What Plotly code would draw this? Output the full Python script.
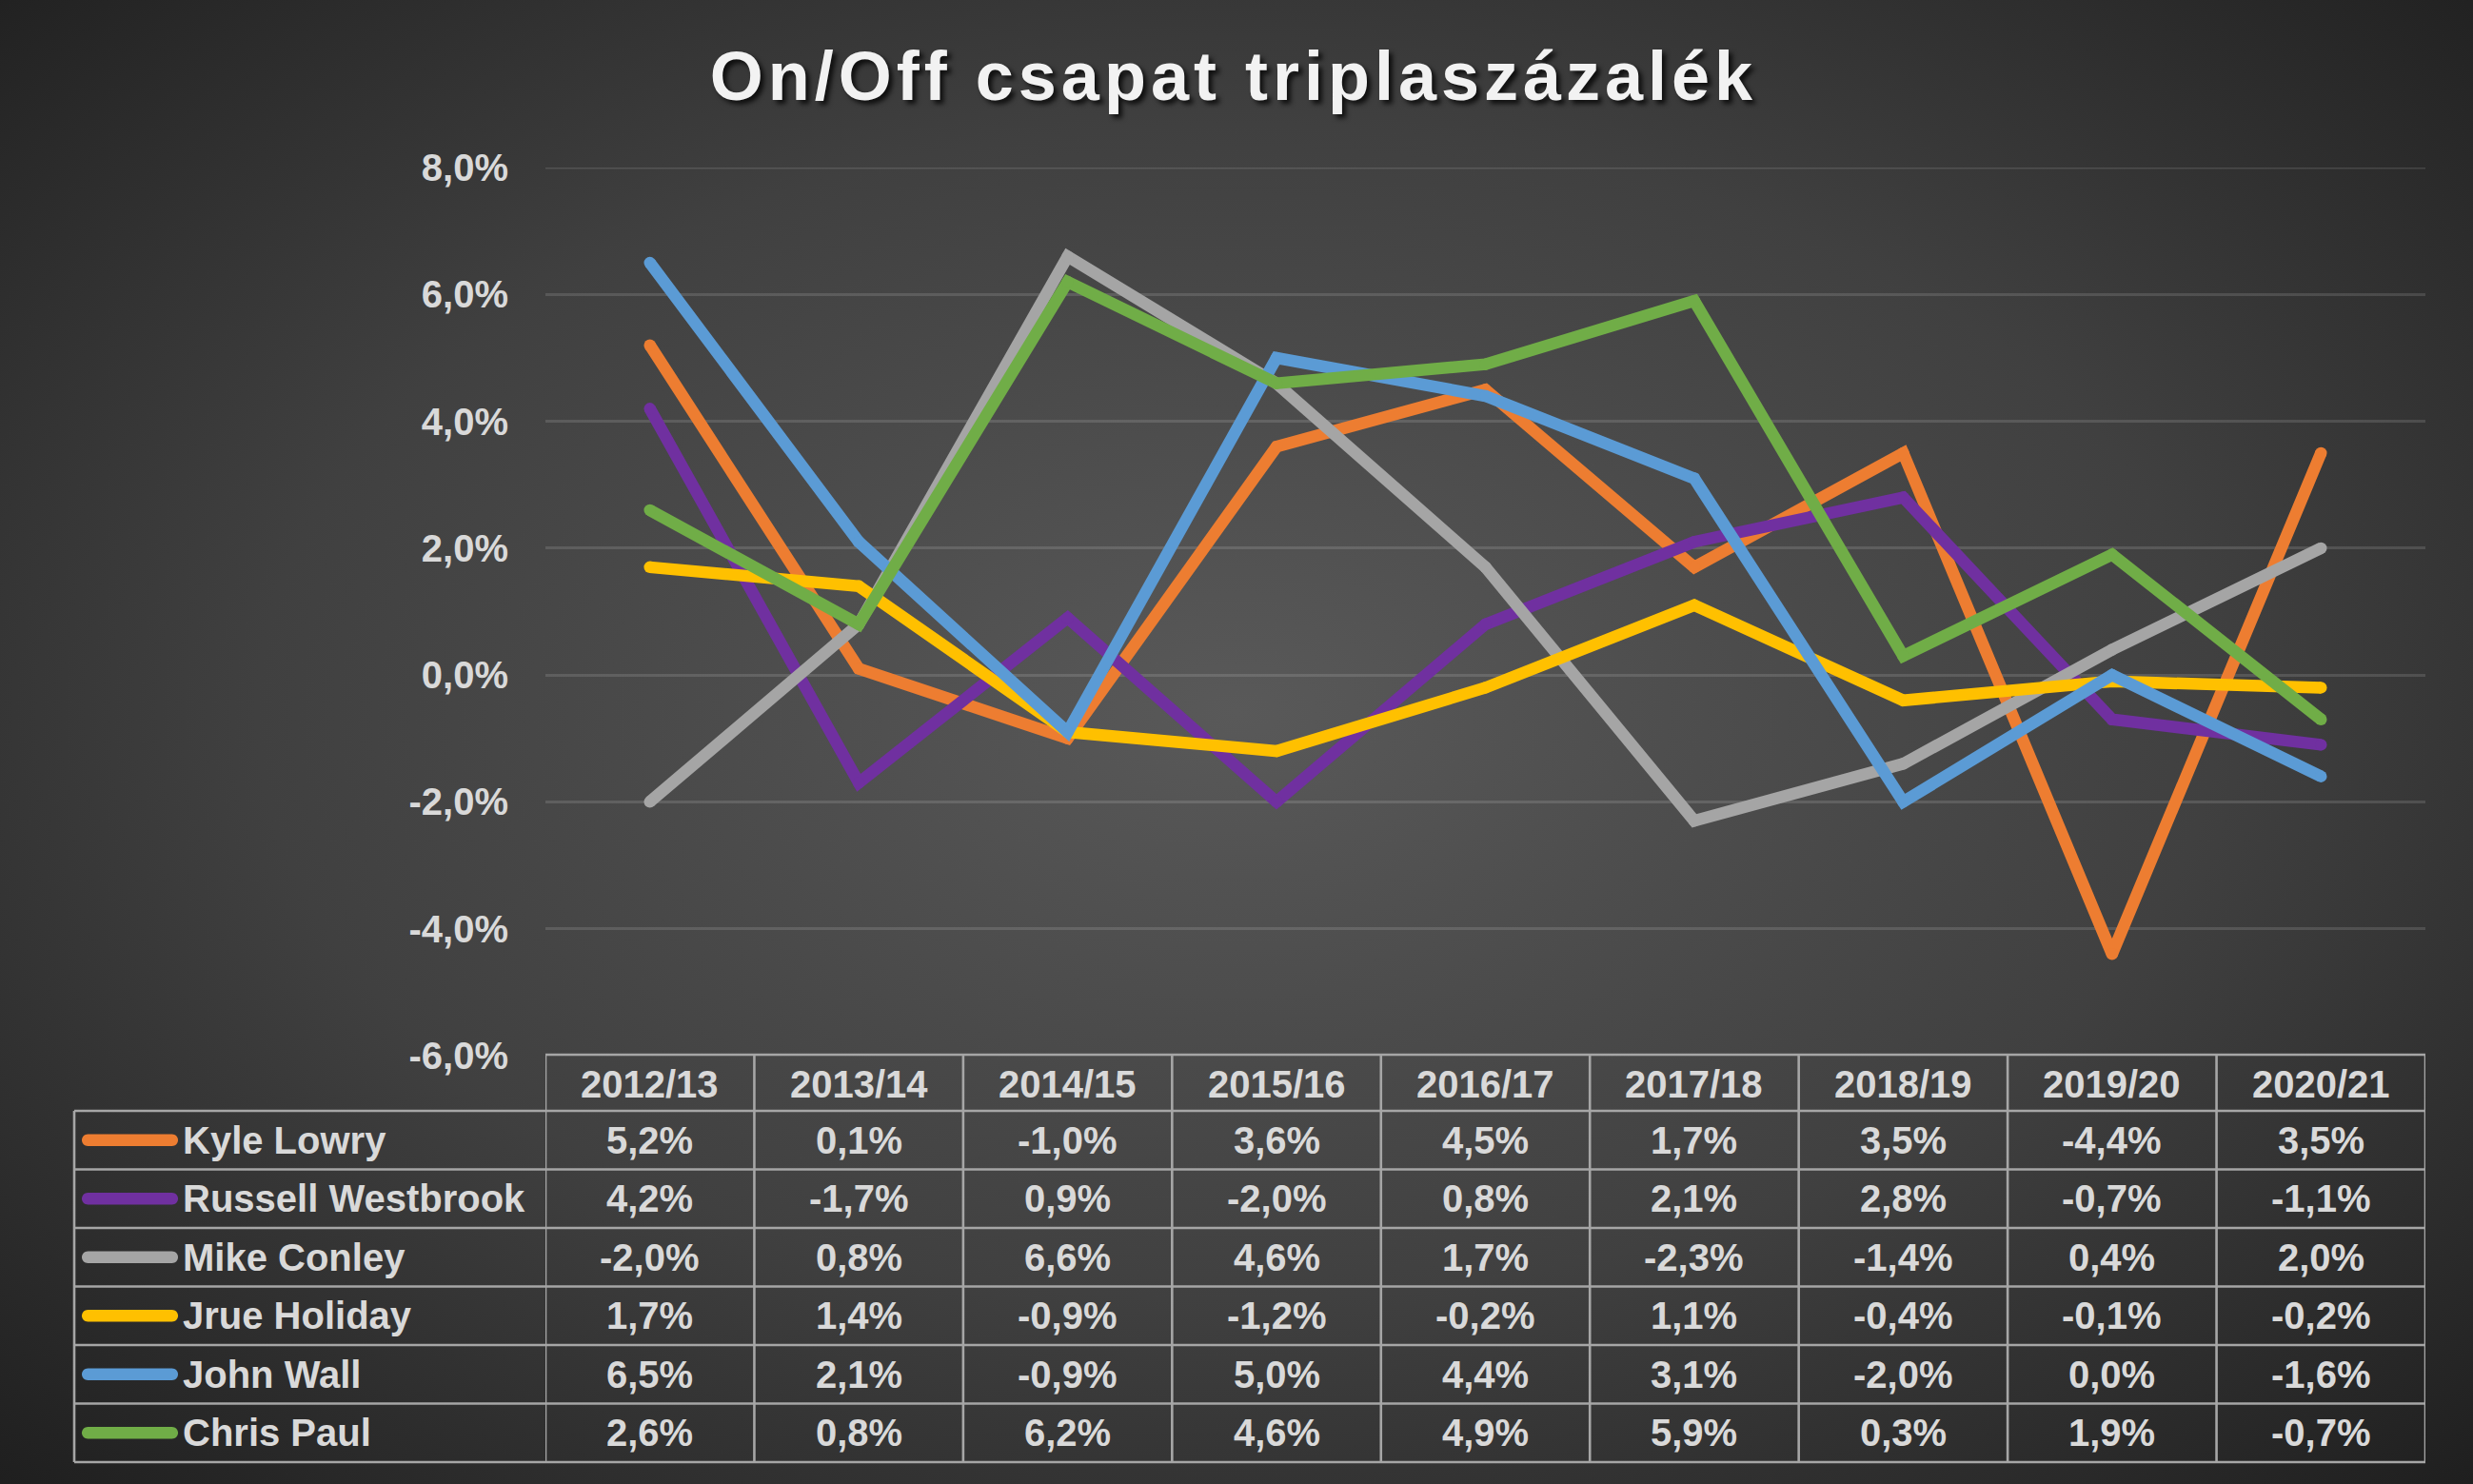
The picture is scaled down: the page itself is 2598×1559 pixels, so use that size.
import base64
import plotly.graph_objects as go

# ---------------- data ----------------
seasons = ["2012/13", "2013/14", "2014/15", "2015/16", "2016/17",
           "2017/18", "2018/19", "2019/20", "2020/21"]
players = ["Kyle Lowry", "Russell Westbrook", "Mike Conley",
           "Jrue Holiday", "John Wall", "Chris Paul"]
kyle_lowry = [5.2, 0.1, -1.0, 3.6, 4.5, 1.7, 3.5, -4.4, 3.5]
russell_westbrook = [4.2, -1.7, 0.9, -2.0, 0.8, 2.1, 2.8, -0.7, -1.1]
mike_conley = [-2.0, 0.8, 6.6, 4.6, 1.7, -2.3, -1.4, 0.4, 2.0]
jrue_holiday = [1.7, 1.4, -0.9, -1.2, -0.2, 1.1, -0.4, -0.1, -0.2]
john_wall = [6.5, 2.1, -0.9, 5.0, 4.4, 3.1, -2.0, 0.0, -1.6]
chris_paul = [2.6, 0.8, 6.2, 4.6, 4.9, 5.9, 0.3, 1.9, -0.7]
y_ticks = [-6, -4, -2, 0, 2, 4, 6, 8]
title_text = "On/Off csapat triplaszázalék"

series = [kyle_lowry, russell_westbrook, mike_conley, jrue_holiday, john_wall, chris_paul]
colors = ["#ED7D31", "#7030A0", "#A5A5A5", "#FFC000", "#5B9BD5", "#70AD47"]


def fmt(v):
    return f"{v:.1f}%".replace(".", ",")


# ---------------- layout geometry (pixels) ----------------
W, H = 2598, 1559
L_PX, R_PX, T_PX, B_PX = 573, 2548, 176, 1109
PW, PH = R_PX - L_PX, B_PX - T_PX


def px2x(px):
    return (px - L_PX) / PW


def px2y(py):
    return (B_PX - py) / PH


TEXT_COL = "#D9D9D9"
FONT = "Liberation Sans, Arial, sans-serif"
LINE_W = 12.5
GRID_COL = "rgba(255,255,255,0.13)"
GRID_W = 2.6

fig = go.Figure()
for name, vals, col in zip(players, series, colors):
    fig.add_trace(go.Scatter(
        x=seasons, y=vals, name=name, mode="lines+markers",
        line=dict(color=col, width=LINE_W),
        marker=dict(color=col, size=LINE_W, line=dict(width=0)),
        showlegend=False, hoverinfo="skip",
    ))

# ---------------- background (radial gradient) ----------------
svg = f'''<svg xmlns="http://www.w3.org/2000/svg" width="{W}" height="{H}" viewBox="0 0 {W} {H}" preserveAspectRatio="none">
<defs><radialGradient id="g" cx="50%" cy="48%" r="72%">
<stop offset="0%" stop-color="#595959"/>
<stop offset="55%" stop-color="#404040"/>
<stop offset="100%" stop-color="#1f1f1f"/>
</radialGradient></defs>
<rect x="0" y="0" width="{W}" height="{H}" fill="url(#g)"/></svg>'''
src = "data:image/svg+xml;base64," + base64.b64encode(svg.encode()).decode()

images = [dict(source=src, xref="paper", yref="paper",
               x=px2x(0), y=px2y(0), sizex=W / PW, sizey=H / PH,
               xanchor="left", yanchor="top", sizing="stretch", layer="below")]

# ---------------- data table ----------------
shapes = []
annotations = []
BORDER = "#A6A6A6"
BW = 2.6
header_top, header_bot = 1108, 1167
row_h = (1536 - 1167) / 6
row_lines = [1167 + row_h * k for k in range(7)]
legend_left = 78

# top gridline (plotly drops the one sitting exactly on the range edge)
shapes.append(dict(type="line", xref="paper", yref="y", layer="below",
                   x0=0, x1=1, y0=y_ticks[-1], y1=y_ticks[-1],
                   line=dict(color=GRID_COL, width=GRID_W)))

shapes.append(dict(type="line", xref="paper", yref="paper",
                   x0=px2x(L_PX), x1=px2x(R_PX), y0=px2y(header_top), y1=px2y(header_top),
                   line=dict(color=BORDER, width=BW)))
for yl in row_lines:
    shapes.append(dict(type="line", xref="paper", yref="paper",
                       x0=px2x(legend_left), x1=px2x(R_PX), y0=px2y(yl), y1=px2y(yl),
                       line=dict(color=BORDER, width=BW)))
shapes.append(dict(type="line", xref="paper", yref="paper",
                   x0=px2x(legend_left), x1=px2x(legend_left),
                   y0=px2y(row_lines[0]), y1=px2y(row_lines[-1]),
                   line=dict(color=BORDER, width=BW)))
for k in range(len(seasons) + 1):
    shapes.append(dict(type="line", xref="x", yref="paper",
                       x0=k - 0.5, x1=k - 0.5,
                       y0=px2y(header_top), y1=px2y(row_lines[-1]),
                       line=dict(color=BORDER, width=BW)))

cell_font = dict(family=FONT, size=40, color=TEXT_COL, weight="bold")
for s in seasons:
    annotations.append(dict(x=s, xref="x", yref="paper",
                            y=px2y((header_top + header_bot) / 2 + 1),
                            text=s, showarrow=False, xanchor="center", yanchor="middle",
                            font=cell_font))

r = LINE_W / 2
Lh = 44.25
k_ = 0.5523
legend_path = (f"M {-Lh},{-r} L {Lh},{-r} "
               f"C {Lh + k_ * r},{-r} {Lh + r},{-k_ * r} {Lh + r},0 "
               f"C {Lh + r},{k_ * r} {Lh + k_ * r},{r} {Lh},{r} "
               f"L {-Lh},{r} "
               f"C {-Lh - k_ * r},{r} {-Lh - r},{k_ * r} {-Lh - r},0 "
               f"C {-Lh - r},{-k_ * r} {-Lh - k_ * r},{-r} {-Lh},{-r} Z")

for i, (name, vals, col) in enumerate(zip(players, series, colors)):
    yc = row_lines[i] + row_h / 2
    shapes.append(dict(type="path", xref="paper", yref="paper",
                       xsizemode="pixel", ysizemode="pixel",
                       xanchor=px2x(136.5), yanchor=px2y(yc),
                       path=legend_path, fillcolor=col, line=dict(width=0)))
    annotations.append(dict(x=px2x(190), xref="paper", yref="paper", y=px2y(yc),
                            text=name, showarrow=False, xanchor="left", yanchor="middle",
                            font=cell_font))
    for s, v in zip(seasons, vals):
        annotations.append(dict(x=s, xref="x", yref="paper", y=px2y(yc),
                                text=fmt(v), showarrow=False, xanchor="center",
                                yanchor="middle", font=cell_font))

fig.update_layout(
    width=W, height=H,
    margin=dict(l=L_PX, r=W - R_PX, t=T_PX, b=H - B_PX, pad=0),
    paper_bgcolor="#333333", plot_bgcolor="rgba(0,0,0,0)",
    title=dict(text=f'<span style="letter-spacing:5px">{title_text}</span>',
               x=1296 / W, xanchor="center", xref="container",
               y=1 - 80 / H, yanchor="middle", yref="container",
               font=dict(family=FONT, size=72, color="#F2F2F2", weight="bold",
                         shadow="4px 4px 5px rgba(0,0,0,0.75)")),
    xaxis=dict(type="category", range=[-0.5, len(seasons) - 0.5],
               showticklabels=False, showgrid=False, zeroline=False,
               showline=False, ticks=""),
    yaxis=dict(range=[-6.003, 8.003], tickvals=y_ticks,
               ticktext=[fmt(v) for v in y_ticks],
               showgrid=True, gridcolor=GRID_COL, gridwidth=GRID_W,
               zeroline=False, showline=False, ticks="",
               ticklabelstandoff=38, automargin=False,
               tickfont=dict(family=FONT, size=40, color=TEXT_COL, weight="bold")),
    images=images, shapes=shapes, annotations=annotations,
    hovermode=False,
)

fig.write_html("out.html")
